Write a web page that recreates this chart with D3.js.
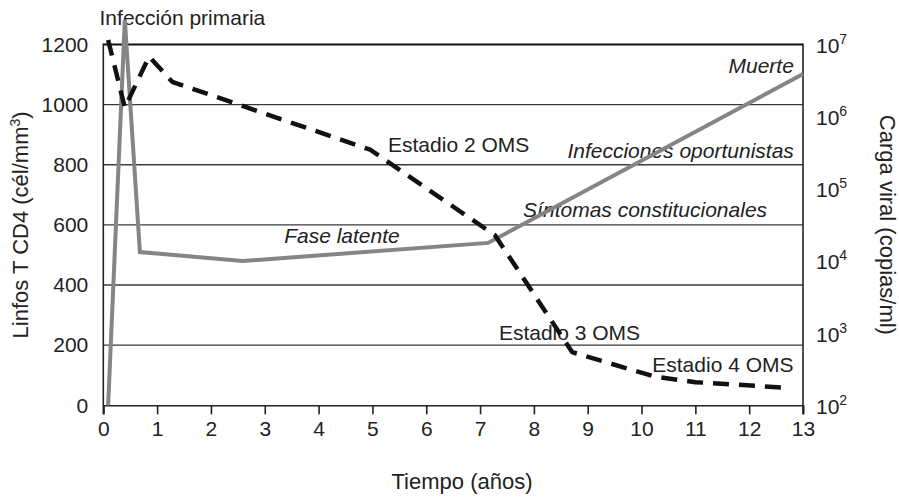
<!DOCTYPE html>
<html><head><meta charset="utf-8">
<script src="https://cdn.jsdelivr.net/npm/d3@7"></script>
<style>
html,body{margin:0;padding:0;background:#fff;}
svg{display:block;font-family:"Liberation Sans",Arial,Helvetica,sans-serif;}
</style></head>
<body>
<svg id="chart" width="899" height="497"></svg>
<script>
// ---- data ----
const xTicks = [0,1,2,3,4,5,6,7,8,9,10,11,12,13];
const cd4Ticks = [0,200,400,600,800,1000,1200];
const vlTickExps = [2,3,4,5,6,7];

// CD4 count (dashed, left axis)
const cd4Years  = [0.09, 0.4, 0.85, 1.28, 4.96, 7.28, 8.71, 10.25, 11.0, 12.72];
const cd4Values = [1215, 990, 1160, 1076, 850, 565, 177, 95, 77, 58];

// Viral load (solid grey, right log axis)
const vlYears  = [0.09, 0.4, 0.68, 2.59, 7.15, 13];
const vlValues = [100, 22000000, 13300, 10000, 17800, 3900000];

const annotations = [
  {text:"Infección primaria", x:-0.07, y:1265, anchor:"start", italic:false},
  {text:"Muerte", x:12.83, y:1105, anchor:"end", italic:true},
  {text:"Infecciones oportunistas", x:12.83, y:822, anchor:"end", italic:true},
  {text:"Síntomas constitucionales", x:7.8, y:626, anchor:"start", italic:true},
  {text:"Fase latente", x:3.36, y:540, anchor:"start", italic:true},
  {text:"Estadio 2 OMS", x:5.29, y:843, anchor:"start", italic:false},
  {text:"Estadio 3 OMS", x:7.35, y:217, anchor:"start", italic:false},
  {text:"Estadio 4 OMS", x:10.2, y:111, anchor:"start", italic:false}
];

// ---- layout ----
const svg = d3.select("#chart");
const L = 103.3, R = 803, T = 44.5, B = 405.3;
const x = d3.scaleLinear().domain([0,13]).range([L,R]);
const yL = d3.scaleLinear().domain([0,1200]).range([B,T]);
const yR = d3.scaleLog().domain([100,1e7]).range([B,T]);

// grid lines
svg.append("g").selectAll("line").data(cd4Ticks.filter(d=>d>0)).join("line")
  .attr("x1",L).attr("x2",R).attr("y1",d=>yL(d)).attr("y2",d=>yL(d))
  .attr("stroke",d=>d===1200?"#111":"#3a3a3a")
  .attr("stroke-width",d=>d===1200?2.2:1.4);

// bottom axis
const xAxis = d3.axisBottom(x).tickValues(xTicks).tickSize(9).tickPadding(7).tickFormat(d3.format("d"));
const gx = svg.append("g").attr("transform",`translate(0,${B})`).call(xAxis);
gx.select(".domain").attr("stroke","#222").attr("stroke-width",1.6);
gx.selectAll(".tick line").attr("stroke","#222").attr("stroke-width",1.6);
gx.selectAll(".tick text").attr("font-size",21).attr("fill","#222").attr("font-family","Liberation Sans, Arial, sans-serif");

// left axis
const yAxisL = d3.axisLeft(yL).tickValues(cd4Ticks).tickSize(0).tickPadding(15).tickFormat(d3.format("d"));
const gl = svg.append("g").attr("transform",`translate(${L},0)`).call(yAxisL);
gl.select(".domain").remove();
gl.selectAll(".tick text").attr("font-size",21).attr("fill","#222").attr("font-family","Liberation Sans, Arial, sans-serif");

// frame verticals
svg.append("line").attr("x1",L).attr("x2",L).attr("y1",T-1).attr("y2",B+9).attr("stroke","#222").attr("stroke-width",1.6);
svg.append("line").attr("x1",R).attr("x2",R).attr("y1",T-1).attr("y2",B+9).attr("stroke","#222").attr("stroke-width",1.6);

// right axis (log, 10^n labels)
const yAxisR = d3.axisRight(yR).tickValues(vlTickExps.map(e=>Math.pow(10,e))).tickSize(0).tickPadding(13).tickFormat("");
const gr = svg.append("g").attr("transform",`translate(${R},0)`).call(yAxisR);
gr.select(".domain").remove();
gr.selectAll(".tick").each(function(d){
  const e = Math.round(Math.log10(d));
  const t = d3.select(this).append("text").attr("x",13).attr("y",8)
    .attr("font-size",21).attr("fill","#222").attr("text-anchor","start");
  t.append("tspan").text("10");
  t.append("tspan").attr("dy",-9).attr("font-size",14).text(e);
});

// axis titles
svg.append("text").attr("transform",`translate(28,${(T+B)/2}) rotate(-90)`)
  .attr("text-anchor","middle").attr("font-size",22).attr("fill","#222")
  .call(t=>{t.append("tspan").text("Linfos T CD4 (cél/mm");
            t.append("tspan").attr("dy",-8).attr("font-size",14).text("3");
            t.append("tspan").attr("dy",8).text(")");});
svg.append("text").attr("transform",`translate(880,${(T+B)/2}) rotate(90)`)
  .attr("text-anchor","middle").attr("font-size",22).attr("fill","#222")
  .text("Carga viral (copias/ml)");
svg.append("text").attr("x",462).attr("y",489)
  .attr("text-anchor","middle").attr("font-size",22).attr("fill","#222")
  .text("Tiempo (años)");

// annotations
svg.append("g").selectAll("text").data(annotations).join("text")
  .attr("x",d=>x(d.x)).attr("y",d=>yL(d.y))
  .attr("text-anchor",d=>d.anchor)
  .attr("font-style",d=>d.italic?"italic":"normal")
  .attr("font-size",21).attr("fill","#222")
  .text(d=>d.text);

// viral load line
const vlData = vlYears.map((t,i)=>({t, v:vlValues[i]}));
svg.append("path").datum(vlData)
  .attr("d", d3.line().x(d=>x(d.t)).y(d=>yR(d.v)))
  .attr("fill","none").attr("stroke","#858587").attr("stroke-width",4)
  .attr("stroke-linejoin","miter").attr("stroke-miterlimit",4);

// CD4 line
const cdData = cd4Years.map((t,i)=>({t, v:cd4Values[i]}));
svg.append("path").datum(cdData)
  .attr("d", d3.line().x(d=>x(d.t)).y(d=>yL(d.v)))
  .attr("fill","none").attr("stroke","#111").attr("stroke-width",4.5)
  .attr("stroke-dasharray","16,10").attr("stroke-linejoin","round");
</script>
</body></html>
